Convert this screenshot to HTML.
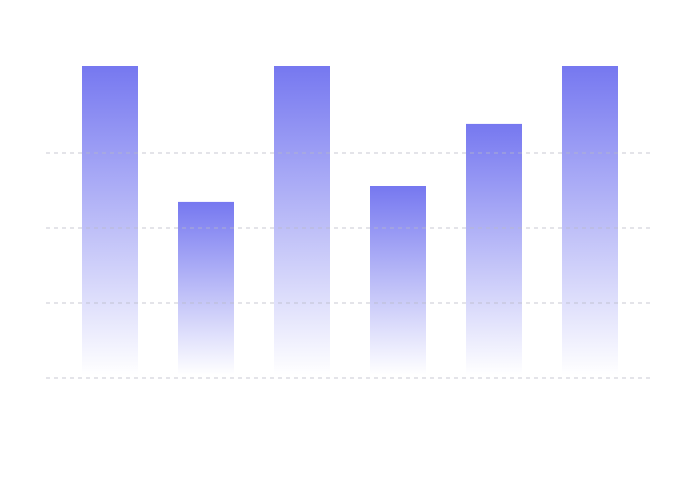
<!DOCTYPE html>
<html><head><meta charset="utf-8"><style>
html,body{margin:0;padding:0;background:#fff;}
svg{display:block;}
</style></head><body>
<svg id="chart" width="700" height="480" viewBox="0 0 700 480" xmlns="http://www.w3.org/2000/svg">
<defs>
<linearGradient id="barGrad" x1="0" y1="0" x2="0" y2="1">
<stop offset="0" stop-color="#7678f0" stop-opacity="1"/>
<stop offset="1" stop-color="#7678f0" stop-opacity="0"/>
</linearGradient>
</defs>
<g id="bars"></g>
<g id="grid"></g>
</svg>
<script>
const categories = ["a","b","c","d","e","f"];
const values = [104, 58.7, 104, 64, 84.7, 104];
const gridTicks = [0, 25, 50, 75];

const NS = "http://www.w3.org/2000/svg";
const plotLeft = 46, plotRight = 650, baseY = 378, pxPerUnit = 3;
function y(v){ return baseY - v * pxPerUnit; }
const band = 96;
function x(i){ return 82 + i * band; }
const barW = 56;

const gGrid = document.getElementById("grid");
gridTicks.forEach(t => {
  const l = document.createElementNS(NS, "line");
  
  
  l.setAttribute("x1", plotLeft); l.setAttribute("x2", plotRight);
  l.setAttribute("y1", y(t)); l.setAttribute("y2", y(t));
  l.setAttribute("stroke", "#b8bac6"); l.setAttribute("stroke-opacity", "0.5");
  l.setAttribute("stroke-width", "1.5");
  l.setAttribute("stroke-dasharray", "4 4");
  gGrid.appendChild(l);
});

const gBars = document.getElementById("bars");
values.forEach((v, i) => {
  const r = document.createElementNS(NS, "rect");
  
  
  r.setAttribute("x", x(i)); r.setAttribute("width", barW);
  r.setAttribute("y", y(v)); r.setAttribute("height", Math.max(0, y(0) - 3 - y(v)));
  r.setAttribute("fill", "url(#barGrad)");
  gBars.appendChild(r);
});
</script>
</body></html>
